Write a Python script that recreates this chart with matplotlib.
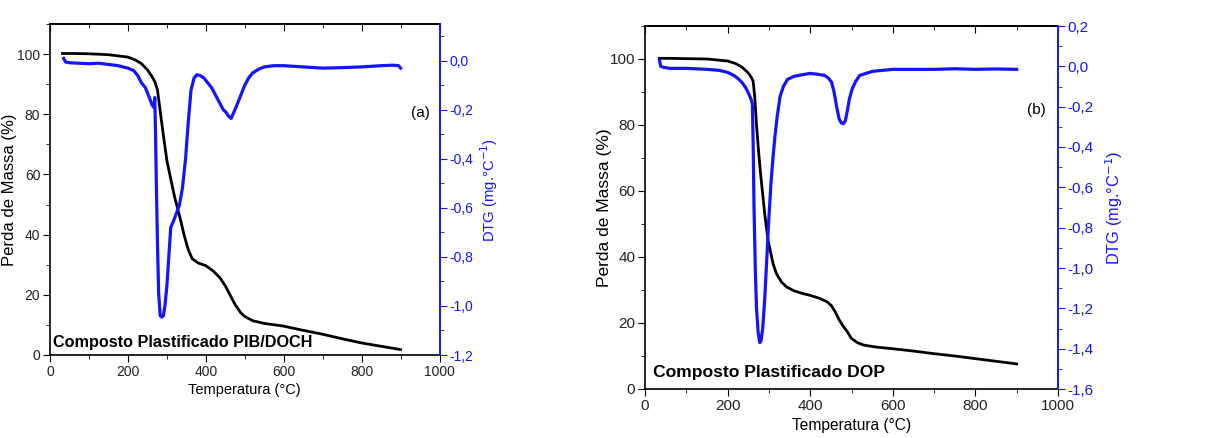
import matplotlib
matplotlib.use("Agg")
import matplotlib.pyplot as plt
from matplotlib.ticker import MultipleLocator, FuncFormatter

plt.rcParams["font.family"] = ["Liberation Sans", "DejaVu Sans"]

# (a) Composto Plastificado PIB/DOCH
temp_tg_a = [32, 60, 100, 150, 200, 220, 235, 250, 262, 270, 276, 282, 290, 300, 310,
             320, 334, 345, 355, 365, 380, 400, 420, 436, 450, 462, 475, 490, 500,
             520, 550, 600, 642, 700, 750, 800, 850, 900]
tg_a = [100.2, 100.2, 100.1, 99.8, 99.0, 98.0, 96.8, 94.8, 92.5, 90.6, 88.0, 82.0, 74.0,
        64.7, 58.5, 52.5, 45.5, 39.5, 35.0, 32.0, 30.6, 29.7, 27.8, 25.7, 23.0, 20.0,
        16.8, 14.0, 12.8, 11.4, 10.5, 9.6, 8.4, 6.9, 5.4, 4.0, 2.9, 1.8]
temp_dtg_a = [35, 40, 50, 75, 100, 125, 150, 175, 200, 215, 225, 235, 245, 255, 262,
              267, 269, 271, 273, 276, 279, 283, 287, 291, 295, 300, 305, 310, 318,
              325, 332, 340, 348, 355, 362, 370, 377, 385, 395, 405, 415, 425, 435,
              445, 452, 458, 465, 472, 480, 490, 500, 510, 520, 535, 550, 575, 600,
              650, 700, 750, 800, 850, 880, 895, 900]
dtg_a = [0.01, -0.005, -0.008, -0.01, -0.012, -0.01, -0.015, -0.02, -0.03, -0.04, -0.06,
         -0.09, -0.11, -0.15, -0.18, -0.19, -0.15, -0.3, -0.5, -0.75, -0.95, -1.04, -1.045,
         -1.04, -1.0, -0.92, -0.8, -0.68, -0.65, -0.62, -0.59, -0.52, -0.4, -0.25, -0.12,
         -0.07, -0.057, -0.06, -0.07, -0.09, -0.11, -0.14, -0.17, -0.2, -0.21, -0.225,
         -0.235, -0.21, -0.18, -0.14, -0.1, -0.07, -0.05, -0.035, -0.025, -0.02, -0.02,
         -0.025, -0.03, -0.028, -0.025, -0.02, -0.018, -0.02, -0.03]

# (b) Composto Plastificado DOP
temp_tg_b = [35, 60, 100, 150, 200, 220, 235, 250, 258, 262, 266, 270, 275, 280, 290,
             298, 310, 318, 330, 342, 360, 380, 399, 420, 440, 451, 460, 470, 480,
             488, 500, 515, 530, 560, 600, 650, 700, 750, 800, 850, 900]
tg_b = [100.2, 100.2, 100.1, 100.0, 99.4, 98.6, 97.5, 95.8, 94.3, 93.2, 88.0, 80.0, 72.0,
        65.0, 53.0, 45.0, 38.0, 35.0, 32.5, 31.0, 29.8, 29.0, 28.4, 27.6, 26.5, 25.3,
        23.5, 21.0, 19.0, 17.7, 15.3, 14.0, 13.3, 12.7, 12.2, 11.5, 10.7, 10.0, 9.2,
        8.4, 7.6]
temp_dtg_b = [35, 38, 45, 60, 100, 150, 180, 200, 215, 225, 235, 245, 252, 258, 260,
              262, 264, 267, 270, 274, 278, 281, 285, 290, 295, 300, 305, 310, 315,
              320, 327, 335, 345, 360, 380, 400, 420, 435, 445, 452, 458, 464, 470,
              475, 480, 485, 490, 495, 502, 510, 520, 535, 550, 575, 600, 650, 700,
              750, 800, 850, 900]
dtg_b = [0.03, 0.0, -0.005, -0.01, -0.01, -0.015, -0.02, -0.03, -0.045, -0.06, -0.08,
         -0.11, -0.14, -0.17, -0.19, -0.4, -0.7, -1.0, -1.2, -1.32, -1.37, -1.36, -1.3,
         -1.15, -0.95, -0.75, -0.58, -0.45, -0.34, -0.25, -0.15, -0.1, -0.065, -0.05,
         -0.042, -0.035, -0.04, -0.045, -0.06, -0.08, -0.13, -0.2, -0.26, -0.28, -0.285,
         -0.27, -0.22, -0.16, -0.11, -0.075, -0.045, -0.035, -0.025, -0.02, -0.015,
         -0.015, -0.015, -0.012, -0.015, -0.013, -0.015]

W, H = 1222, 438
BLUE = "#1414ff"
fig = plt.figure(figsize=(W / 100, H / 100), dpi=100)


def comma(v, pos):
    s = f"{v:.1f}".replace(".", ",")
    if s == "-0,0":
        s = "0,0"
    return s


def make_panel(box, temp_tg, tg, temp_dtg, dtg, dtg_lim, title, title_xy, title_size,
               letter, letter_xy, tick_fs, xlab_fs, ylab_fs, dtg_fs, ylab_x, dtg_x, xpad):
    left, top, right, bottom = box
    ax = fig.add_axes([left / W, 1 - bottom / H, (right - left) / W, (bottom - top) / H])
    ax.plot(temp_tg, tg, color="black", lw=2.0, zorder=3)
    ax.set_xlim(0, 1000)
    ax.set_ylim(0, 110)
    ax.xaxis.set_major_locator(MultipleLocator(200))
    ax.xaxis.set_minor_locator(MultipleLocator(100))
    ax.set_yticks([0, 20, 40, 60, 80, 100])
    ax.yaxis.set_minor_locator(MultipleLocator(10))
    ax.tick_params(which="both", direction="out", labelsize=tick_fs, pad=2,
                   labelcolor="#222222")
    ax.tick_params(which="major", length=5)
    ax.tick_params(which="minor", length=3)
    ax.tick_params(axis="x", which="both", top=False)
    ax.set_xlabel("Temperatura (°C)", fontsize=xlab_fs, labelpad=xpad)
    ax.set_ylabel("Perda de Massa (%)", fontsize=ylab_fs)
    ax.yaxis.set_label_coords((ylab_x - left) / (right - left), 0.5)
    for s in ax.spines.values():
        s.set_linewidth(1.2)
    ax.spines["right"].set_visible(False)

    ax2 = ax.twinx()
    ax2.plot(temp_dtg, dtg, color=BLUE, lw=2.3, zorder=2)
    ax2.set_ylim(*dtg_lim)
    ax2.yaxis.set_major_locator(MultipleLocator(0.2))
    ax2.yaxis.set_minor_locator(MultipleLocator(0.1))
    ax2.yaxis.set_major_formatter(FuncFormatter(comma))
    ax2.tick_params(which="both", direction="out", colors=BLUE, labelsize=tick_fs, pad=2)
    ax2.tick_params(which="major", length=5)
    ax2.tick_params(which="minor", length=3)
    ax2.spines["right"].set_color(BLUE)
    ax2.spines["right"].set_linewidth(1.4)
    for k in ("left", "top", "bottom"):
        ax2.spines[k].set_visible(False)
    ax2.set_ylabel("DTG (mg.°C$^{-1}$)", color=BLUE, fontsize=dtg_fs)
    ax2.yaxis.set_label_coords((dtg_x - left) / (right - left), 0.5)

    # top ticks point inward
    sec = ax.secondary_xaxis("top")
    sec.xaxis.set_major_locator(MultipleLocator(200))
    sec.xaxis.set_minor_locator(MultipleLocator(100))
    sec.tick_params(which="both", direction="in", labeltop=False)
    sec.tick_params(which="major", length=5)
    sec.tick_params(which="minor", length=3)
    sec.spines["top"].set_linewidth(1.2)

    fig.text(title_xy[0] / W, 1 - title_xy[1] / H, title, fontsize=title_size,
             fontweight="bold", ha="left", va="baseline")
    fig.text(letter_xy[0] / W, 1 - letter_xy[1] / H, letter, fontsize=11,
             ha="center", va="center")
    return ax, ax2


make_panel((50, 24, 439.5, 355), temp_tg_a, tg_a, temp_dtg_a, dtg_a, (-1.2, 0.15),
           "Composto Plastificado PIB/DOCH", (53, 347), 11.7, "(a)", (420, 113),
           10, 10.5, 12, 10.7, 17, 478, 3)
make_panel((645, 26, 1058, 389), temp_tg_b, tg_b, temp_dtg_b, dtg_b, (-1.6, 0.2),
           "Composto Plastificado DOP", (653, 377), 12.6, "(b)", (1036, 110),
           11, 11.2, 12.5, 11.8, 612, 1103, 4)

fig.savefig("out.png", dpi=100, facecolor="white")
